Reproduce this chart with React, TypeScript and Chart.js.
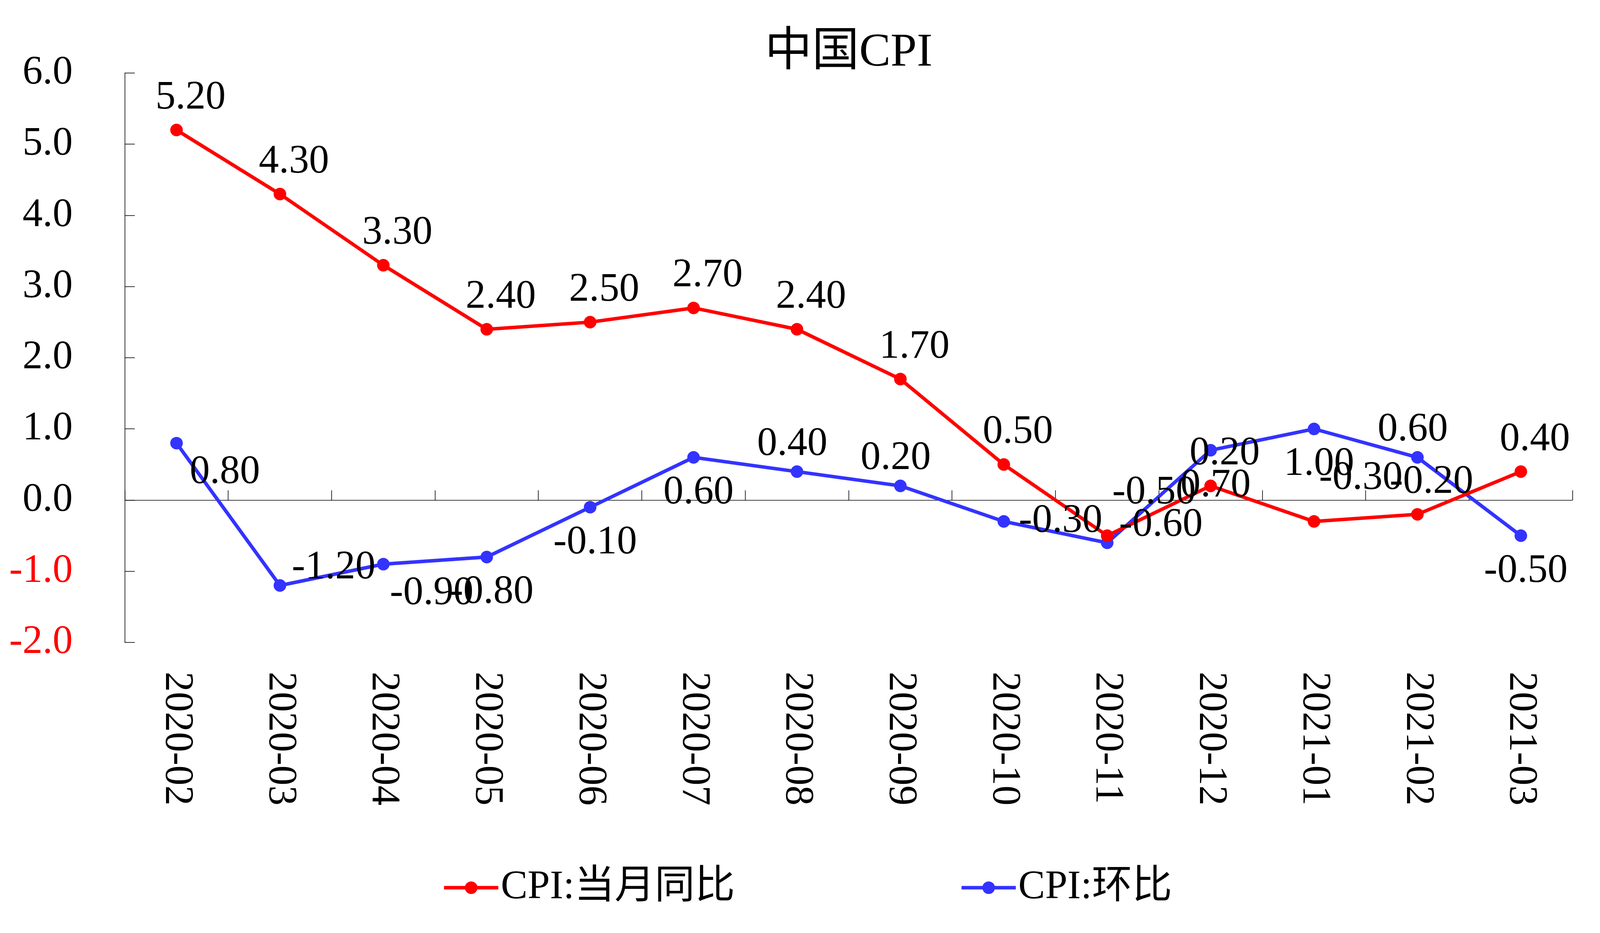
import React, { useEffect, useRef } from "react";
import { Chart, registerables } from "chart.js";

Chart.register(...registerables);

// months on the category axis
const categories = [
  "2020-02", "2020-03", "2020-04", "2020-05", "2020-06", "2020-07", "2020-08",
  "2020-09", "2020-10", "2020-11", "2020-12", "2021-01", "2021-02", "2021-03",
];

// CPI year-on-year (%)
const cpiYoY = [5.2, 4.3, 3.3, 2.4, 2.5, 2.7, 2.4, 1.7, 0.5, -0.5, 0.2, -0.3, -0.2, 0.4];
// CPI month-on-month (%)
const cpiMoM = [0.8, -1.2, -0.9, -0.8, -0.1, 0.6, 0.4, 0.2, -0.3, -0.6, 0.7, 1.0, 0.6, -0.5];

const seriesNames = ["CPI:当月同比", "CPI:环比"];
const seriesColors = ["#ff0000", "#3333ff"];

const yMin = -2;
const yMax = 6;

// where each value label sits relative to its point (at 5128x2389)
const labelOffsets: Record<string, [number, number]> = {
  above: [45, -82],
  aboveFar: [150, -110],
  aboveLeft: [-15, -70],
  below: [16, 91],
  right: [182, 0],
  aboveRight: [172, -45],
  belowRight: [155, 75],
};
const yoyLabelPos = [
  "above", "above", "above", "above", "above", "above", "above",
  "above", "above", "aboveFar", "above", "aboveFar", "above", "above",
];
const momLabelPos = [
  "belowRight", "aboveRight", "belowRight", "below", "below", "below", "aboveLeft",
  "aboveLeft", "right", "aboveRight", "below", "below", "aboveLeft", "below",
];

// design size; everything is scaled to the real canvas
const BASE_W = 5128;
const BASE_H = 2389;
const FONT = "'Liberation Serif', 'Noto Sans CJK SC', serif";

const line = (ctx: CanvasRenderingContext2D, x1: number, y1: number, x2: number, y2: number) => {
  ctx.beginPath();
  ctx.moveTo(x1, y1);
  ctx.lineTo(x2, y2);
  ctx.stroke();
};

const makeExcelLook = (sx: number, sy: number, s: number, fs: number) => ({
  id: "excelLook",
  beforeDatasetsDraw(chart: any) {
    const { ctx, chartArea } = chart;
    const x = chart.scales.x;
    const y = chart.scales.y;
    const tick = 32 * s;
    ctx.save();
    ctx.strokeStyle = "#000";
    ctx.lineWidth = Math.max(1.5, 2 * s);
    // inward ticks on the value axis
    y.ticks.forEach((t: any) => {
      const py = Math.round(y.getPixelForValue(t.value));
      line(ctx, chartArea.left, py, chartArea.left + tick, py);
    });
    // category axis across zero
    const zero = Math.round(y.getPixelForValue(0));
    line(ctx, chartArea.left, zero, chartArea.right, zero);
    const n = categories.length;
    for (let i = 0; i <= n; i++) {
      let px;
      if (i === 0) px = chartArea.left;
      else if (i === n) px = chartArea.right;
      else px = (x.getPixelForValue(i - 1) + x.getPixelForValue(i)) / 2;
      px = Math.round(px);
      line(ctx, px, zero, px, zero - tick);
    }
    ctx.restore();
  },
  afterDraw(chart: any) {
    const { ctx, chartArea } = chart;
    const x = chart.scales.x;
    ctx.save();
    ctx.font = `${115 * fs}px ${FONT}`;
    ctx.fillStyle = "#000";

    // month labels, read top to bottom
    categories.forEach((c, i) => {
      ctx.save();
      ctx.translate(x.getPixelForValue(i), chartArea.bottom + 75 * sy);
      ctx.rotate(Math.PI / 2);
      ctx.textAlign = "left";
      ctx.textBaseline = "middle";
      ctx.fillText(c, 0, 0);
      ctx.restore();
    });

    // value labels
    const positions = [yoyLabelPos, momLabelPos];
    ctx.textAlign = "center";
    ctx.textBaseline = "middle";
    chart.data.datasets.forEach((ds: any, di: number) => {
      const meta = chart.getDatasetMeta(di);
      meta.data.forEach((pt: any, i: number) => {
        const [dx, dy] = labelOffsets[positions[di][i]];
        ctx.fillText(Number(ds.data[i]).toFixed(2), pt.x + dx * sx, pt.y + dy * sy);
      });
    });

    // legend
    const markerW = 174 * s;
    const gap = 726 * sx;
    const items = chart.data.datasets.map((ds: any) => ({
      text: ds.label,
      color: ds.borderColor,
      w: markerW + 8 * s + ctx.measureText(ds.label).width,
    }));
    const total = items.reduce((sum: number, it: any) => sum + it.w, 0) + gap * (items.length - 1);
    let lx = chart.width / 2 + 26 * sx - total / 2;
    const ly = chart.height - 116 * sy;
    ctx.textAlign = "left";
    items.forEach((it: any) => {
      ctx.strokeStyle = it.color;
      ctx.fillStyle = it.color;
      ctx.lineWidth = 10 * fs;
      line(ctx, lx, ly, lx + markerW, ly);
      ctx.beginPath();
      ctx.arc(lx + markerW / 2, ly, 18 * fs, 0, Math.PI * 2);
      ctx.fill();
      ctx.fillStyle = "#000";
      ctx.fillText(it.text, lx + markerW + 8 * s, ly);
      lx += it.w + gap;
    });
    ctx.restore();
  },
});

const App: React.FC = () => {
  const canvasRef = useRef<HTMLCanvasElement | null>(null);

  useEffect(() => {
    const canvas = canvasRef.current;
    const ctx = canvas?.getContext("2d");
    if (!canvas || !ctx) return;

    const box = (canvas.parentElement as HTMLElement).getBoundingClientRect();
    const sx = box.width / BASE_W;
    const sy = box.height / BASE_H;
    const s = Math.min(sx, sy);
    const fs = Math.sqrt(sx * sy);

    const makeSeries = (label: string, data: number[], color: string) => ({
      label,
      data,
      borderColor: color,
      backgroundColor: color,
      pointBackgroundColor: color,
      pointBorderColor: color,
      borderWidth: 10 * fs,
      pointRadius: 18 * fs,
      pointHoverRadius: 18 * fs,
      pointBorderWidth: 0,
      tension: 0,
      fill: false,
    });

    const titleSize = 135 * fs;

    const chart = new Chart(ctx, {
      type: "line",
      data: {
        labels: categories,
        datasets: [
          makeSeries(seriesNames[0], cpiYoY, seriesColors[0]),
          makeSeries(seriesNames[1], cpiMoM, seriesColors[1]),
        ],
      },
      options: {
        animation: false,
        responsive: true,
        maintainAspectRatio: false,
        layout: { padding: { left: 0, right: 88 * sx, top: 0, bottom: 0 } },
        plugins: {
          legend: { display: false },
          tooltip: { enabled: false },
          title: {
            display: true,
            text: "中国CPI",
            color: "#000",
            fullSize: false,
            font: { family: FONT, size: titleSize, weight: "normal", lineHeight: (102 * sy) / titleSize },
            padding: { top: 85 * sy, bottom: 0 },
          },
        },
        scales: {
          x: {
            offset: true,
            grid: { display: false },
            border: { display: false },
            ticks: { display: false },
            afterFit: (scale: any) => {
              scale.height = 744 * sy;
            },
          },
          y: {
            min: yMin,
            max: yMax,
            grid: { display: false },
            border: { display: true, color: "#000", width: Math.max(1.5, 2 * s) },
            ticks: {
              stepSize: 1,
              padding: 157 * sx,
              font: { family: FONT, size: 115 * fs },
              color: (c: any) => (c.tick && c.tick.value < 0 ? "#ff0000" : "#000"),
              callback: (v: any) => Number(v).toFixed(1),
            },
            afterFit: (scale: any) => {
              scale.width = 400 * sx;
            },
          },
        },
      },
      plugins: [makeExcelLook(sx, sy, s, fs)],
    });

    return () => {
      chart.destroy();
    };
  }, []);

  return (
    <div style={{ position: "fixed", left: 0, top: 0, width: "100vw", height: "100vh", background: "#fff" }}>
      <canvas ref={canvasRef} />
    </div>
  );
};

export default App;
